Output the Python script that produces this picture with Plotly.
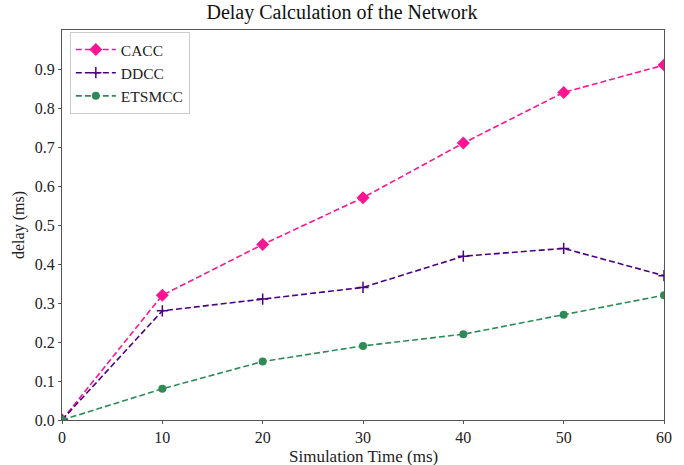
import plotly.graph_objects as go

x_vals = [0, 10, 20, 30, 40, 50, 60]
cacc = [0, 0.32, 0.45, 0.57, 0.71, 0.84, 0.91]
ddcc = [0, 0.28, 0.31, 0.34, 0.42, 0.44, 0.37]
etsmcc = [0, 0.08, 0.15, 0.19, 0.22, 0.27, 0.32]
x_ticks = [0, 10, 20, 30, 40, 50, 60]
y_ticks = [0.0, 0.1, 0.2, 0.3, 0.4, 0.5, 0.6, 0.7, 0.8, 0.9]

FONT = "Liberation Serif, Times New Roman, serif"
DASH = "6px,3px"

fig = go.Figure()
fig.add_trace(go.Scatter(x=x_vals, y=cacc, name="CACC", mode="lines+markers",
                         line=dict(color="#FF1493", dash=DASH, width=1.6),
                         marker=dict(symbol="diamond", size=10, color="#FF1493")))
fig.add_trace(go.Scatter(x=x_vals, y=ddcc, name="DDCC", mode="lines+markers",
                         line=dict(color="#4B0082", dash=DASH, width=1.6),
                         marker=dict(symbol="cross-thin", size=8, color="#4B0082",
                                     line=dict(color="#4B0082", width=1.5))))
fig.add_trace(go.Scatter(x=x_vals, y=etsmcc, name="ETSMCC", mode="lines+markers",
                         line=dict(color="#2E8B57", dash=DASH, width=1.6),
                         marker=dict(symbol="circle", size=8, color="#2E8B57")))

axis_common = dict(showgrid=False, zeroline=False, showline=True, linecolor="#555555",
                   linewidth=1.2, mirror=True, ticks="outside", ticklen=3, tickcolor="#555555",
                   automargin=False,
                   tickfont=dict(family=FONT, size=16, color="#222222"))

fig.update_layout(
    width=684, height=465,
    margin=dict(l=62, r=20, t=30, b=45),
    paper_bgcolor="white", plot_bgcolor="white",
    title=dict(text="Delay Calculation of the Network", x=0.5, xanchor="center",
               y=0.99, yanchor="top",
               font=dict(family=FONT, size=20, color="#111111")),
    xaxis=dict(range=[0, 60], tickvals=x_ticks, ticktext=[str(v) for v in x_ticks],
               **axis_common),
    yaxis=dict(range=[0, 1.0], tickvals=y_ticks, ticktext=[f"{v:.1f}" for v in y_ticks],
               title=dict(text="delay (ms)", standoff=6,
                          font=dict(family=FONT, size=16, color="#222222")),
               **axis_common),
    legend=dict(x=0.013, y=0.995, xanchor="left", yanchor="top",
                bgcolor="rgba(255,255,255,0.9)", bordercolor="#cccccc", borderwidth=1,
                font=dict(family=FONT, size=15.5, color="#222222"),
                itemwidth=40, tracegroupgap=0),
    showlegend=True,
)

fig.add_annotation(text="Simulation Time (ms)", xref="paper", yref="paper",
                   x=0.5, y=-0.093, xanchor="center", yanchor="middle", showarrow=False,
                   font=dict(family=FONT, size=17, color="#222222"))

fig.write_html("out.html")
